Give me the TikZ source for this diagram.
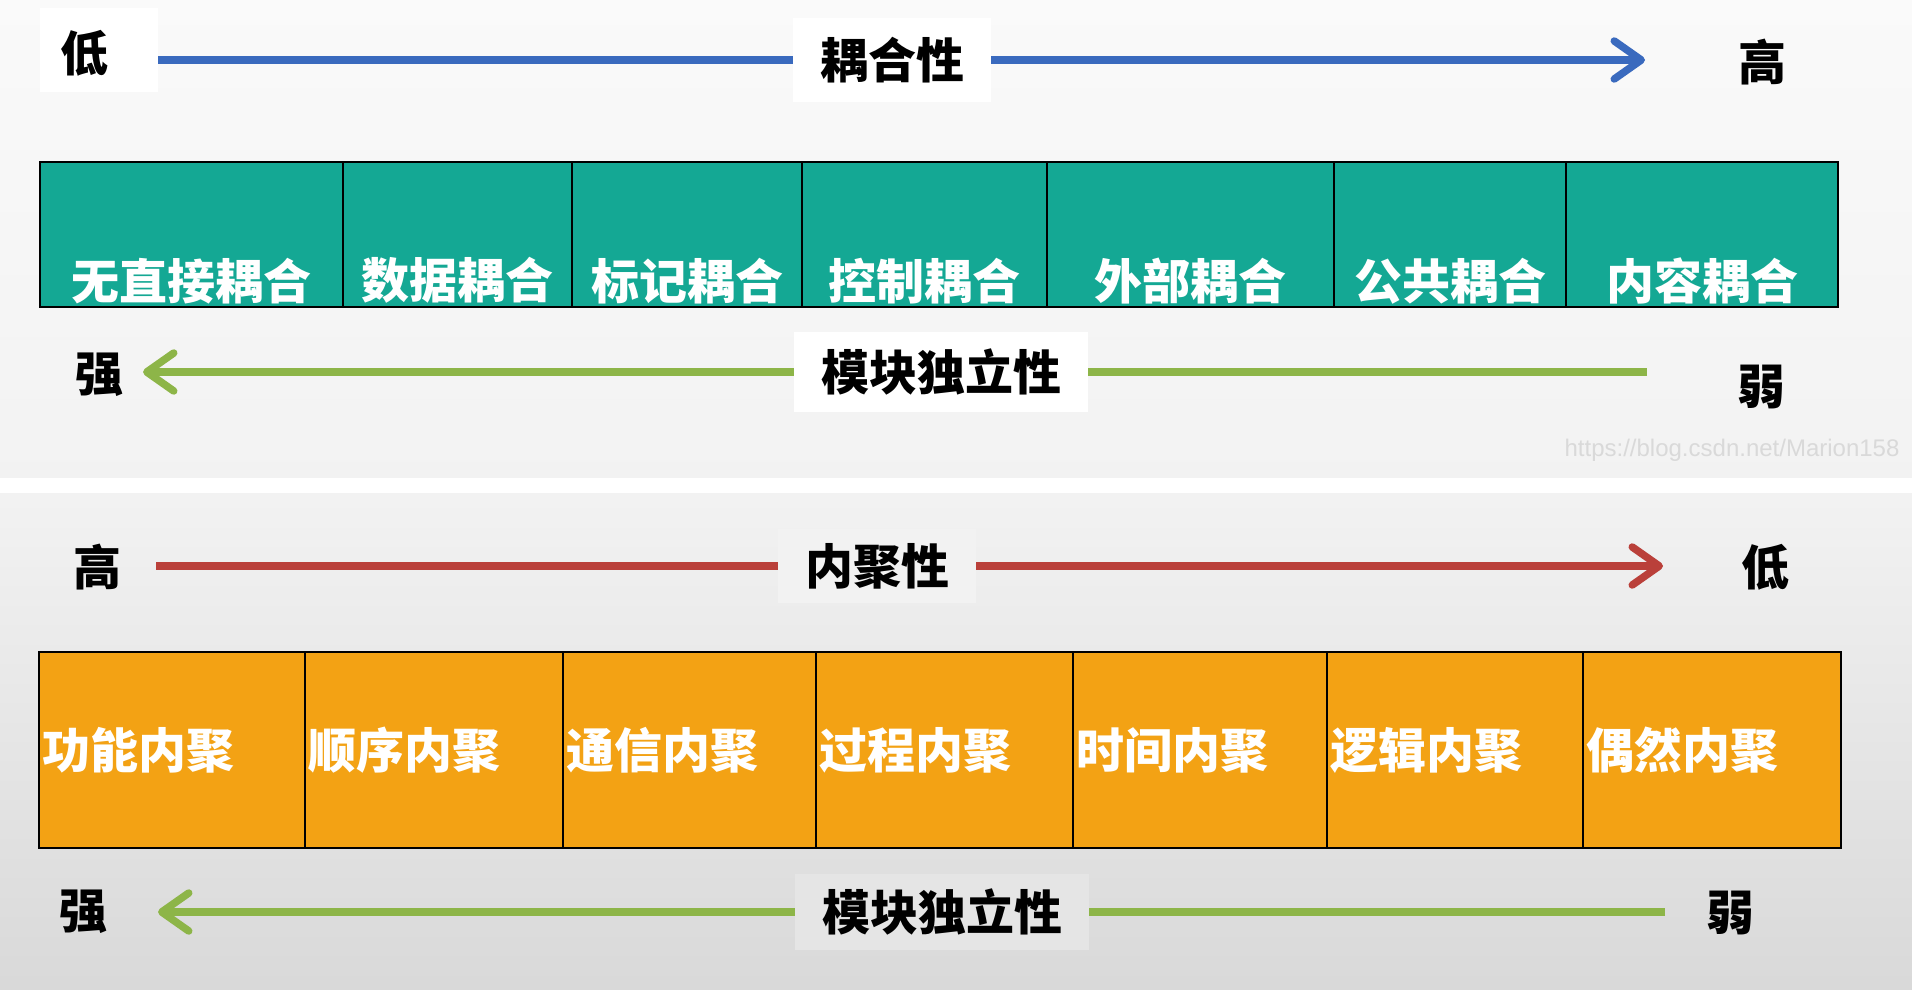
\documentclass[tikz,border=0pt]{standalone}
\usepackage{fontspec}
\setmainfont{Liberation Sans}
\newfontfamily\cjk{Noto Sans CJK SC}
\usetikzlibrary{arrows.meta,positioning}
\definecolor{cplblue}{RGB}{58,106,190}
\definecolor{cohred}{RGB}{186,64,58}
\definecolor{indgreen}{RGB}{141,181,72}
\definecolor{cplteal}{RGB}{20,168,148}
\definecolor{cohorange}{RGB}{243,162,20}
\tikzset{%
	tcell/.style    = {draw, fill=cplteal, line width=2.5pt, minimum height=145pt, outer sep=0pt, inner sep=0pt}, % coupling cell
	ocell/.style    = {draw, fill=cohorange, line width=2.5pt, minimum height=196pt, outer sep=0pt, inner sep=0pt}, % cohesion cell
	celltext/.style = {text=white, font=\cjk\bfseries\fontsize{48}{56}\selectfont, inner sep=0pt},
	endlbl/.style   = {font=\cjk\bfseries\fontsize{48}{56}\selectfont, inner sep=0pt},
	axislbl/.style  = {font=\cjk\bfseries\fontsize{48}{56}\selectfont, inner xsep=27pt, inner ysep=0pt, minimum height=80pt},
	axis/.style     = {line width=7.5pt},
	axisarrow/.style= {line width=7.5pt, -{Straight Barb[length=27pt,width=38pt,round]}},
	wmark/.style    = {font=\fontsize{24}{28}\selectfont, text=black!15, inner sep=0pt},
}
\begin{document}
\begin{tikzpicture}[x=1pt,y=-1pt]
	\useasboundingbox (0,0) rectangle (1912,990);
	\fill[white] (0,0) rectangle (1912,990);
	\shade[top color=black!2, bottom color=black!5] (0,0) rectangle (1912,477);
	\shade[top color=black!5, bottom color=black!15] (0,493) rectangle (1912,990);
	
	% coupling
	\fill[white] (40,8) rectangle (158,92);
	\node[endlbl] (cpllow) at (84,53) {低};
	\node[endlbl] (cplhigh) at (1762,62) {高};
	\node[axislbl, fill=white, minimum height=83pt] (cplname) at (892,60) {耦合性};
	\coordinate (cplstart) at (158,60);
	\coordinate (cpltip) at (1645,60);
	\draw[axis, cplblue] (cplstart) -- (cplname.west);
	\draw[axisarrow, cplblue] (cplname.east) -- (cpltip);
	
	\node[tcell, minimum width=303pt, anchor=north west] (coup1) at (40,162) {};
	\node[tcell, minimum width=229pt, right=0pt of coup1] (coup2) {};
	\node[tcell, minimum width=230pt, right=0pt of coup2] (coup3) {};
	\node[tcell, minimum width=245pt, right=0pt of coup3] (coup4) {};
	\node[tcell, minimum width=287pt, right=0pt of coup4] (coup5) {};
	\node[tcell, minimum width=232pt, right=0pt of coup5] (coup6) {};
	\node[tcell, minimum width=272pt, right=0pt of coup6] (coup7) {};
	\node[celltext, above=3pt of coup1.south] {无直接耦合};
	\node[celltext, above=3pt of coup2.south] {数据耦合};
	\node[celltext, above=3pt of coup3.south] {标记耦合};
	\node[celltext, above=3pt of coup4.south] {控制耦合};
	\node[celltext, above=3pt of coup5.south] {外部耦合};
	\node[celltext, above=3pt of coup6.south] {公共耦合};
	\node[celltext, above=3pt of coup7.south] {内容耦合};
	
	\node[endlbl] (indstrA) at (99,375) {强};
	\node[endlbl] (indweakA) at (1761,387) {弱};
	\node[axislbl, fill=white] (indnameA) at (941,372) {模块独立性};
	\coordinate (indstartA) at (1647,372);
	\coordinate (indtipA) at (143,372);
	\draw[axis, indgreen] (indstartA) -- (indnameA.east);
	\draw[axisarrow, indgreen] (indnameA.west) -- (indtipA);
	
	\node[wmark] (wm) at (1732,450) {https://blog.csdn.net/Marion158};
	
	% cohesion
	\node[endlbl] (cohhigh) at (97,567) {高};
	\node[endlbl] (cohlow) at (1765,567) {低};
	\node[axislbl, fill=black!5, minimum height=74pt] (cohname) at (877,566) {内聚性};
	\coordinate (cohstart) at (156,566);
	\coordinate (cohtip) at (1663,566);
	\draw[axis, cohred] (cohstart) -- (cohname.west);
	\draw[axisarrow, cohred] (cohname.east) -- (cohtip);
	
	\node[ocell, minimum width=266pt, anchor=north west] (coh1) at (39,652) {};
	\node[ocell, minimum width=258pt, right=0pt of coh1] (coh2) {};
	\node[ocell, minimum width=253pt, right=0pt of coh2] (coh3) {};
	\node[ocell, minimum width=257pt, right=0pt of coh3] (coh4) {};
	\node[ocell, minimum width=254pt, right=0pt of coh4] (coh5) {};
	\node[ocell, minimum width=256pt, right=0pt of coh5] (coh6) {};
	\node[ocell, minimum width=258pt, right=0pt of coh6] (coh7) {};
	\node[celltext, right=3pt of coh1.west] {功能内聚};
	\node[celltext, right=3pt of coh2.west] {顺序内聚};
	\node[celltext, right=3pt of coh3.west] {通信内聚};
	\node[celltext, right=3pt of coh4.west] {过程内聚};
	\node[celltext, right=3pt of coh5.west] {时间内聚};
	\node[celltext, right=3pt of coh6.west] {逻辑内聚};
	\node[celltext, right=3pt of coh7.west] {偶然内聚};
	
	\node[endlbl] (indstrB) at (83,912) {强};
	\node[endlbl] (indweakB) at (1730,913) {弱};
	\node[axislbl, fill=black!10, minimum height=76pt] (indnameB) at (942,912) {模块独立性};
	\coordinate (indstartB) at (1665,912);
	\coordinate (indtipB) at (158,912);
	\draw[axis, indgreen] (indstartB) -- (indnameB.east);
	\draw[axisarrow, indgreen] (indnameB.west) -- (indtipB);
\end{tikzpicture}
\end{document}
